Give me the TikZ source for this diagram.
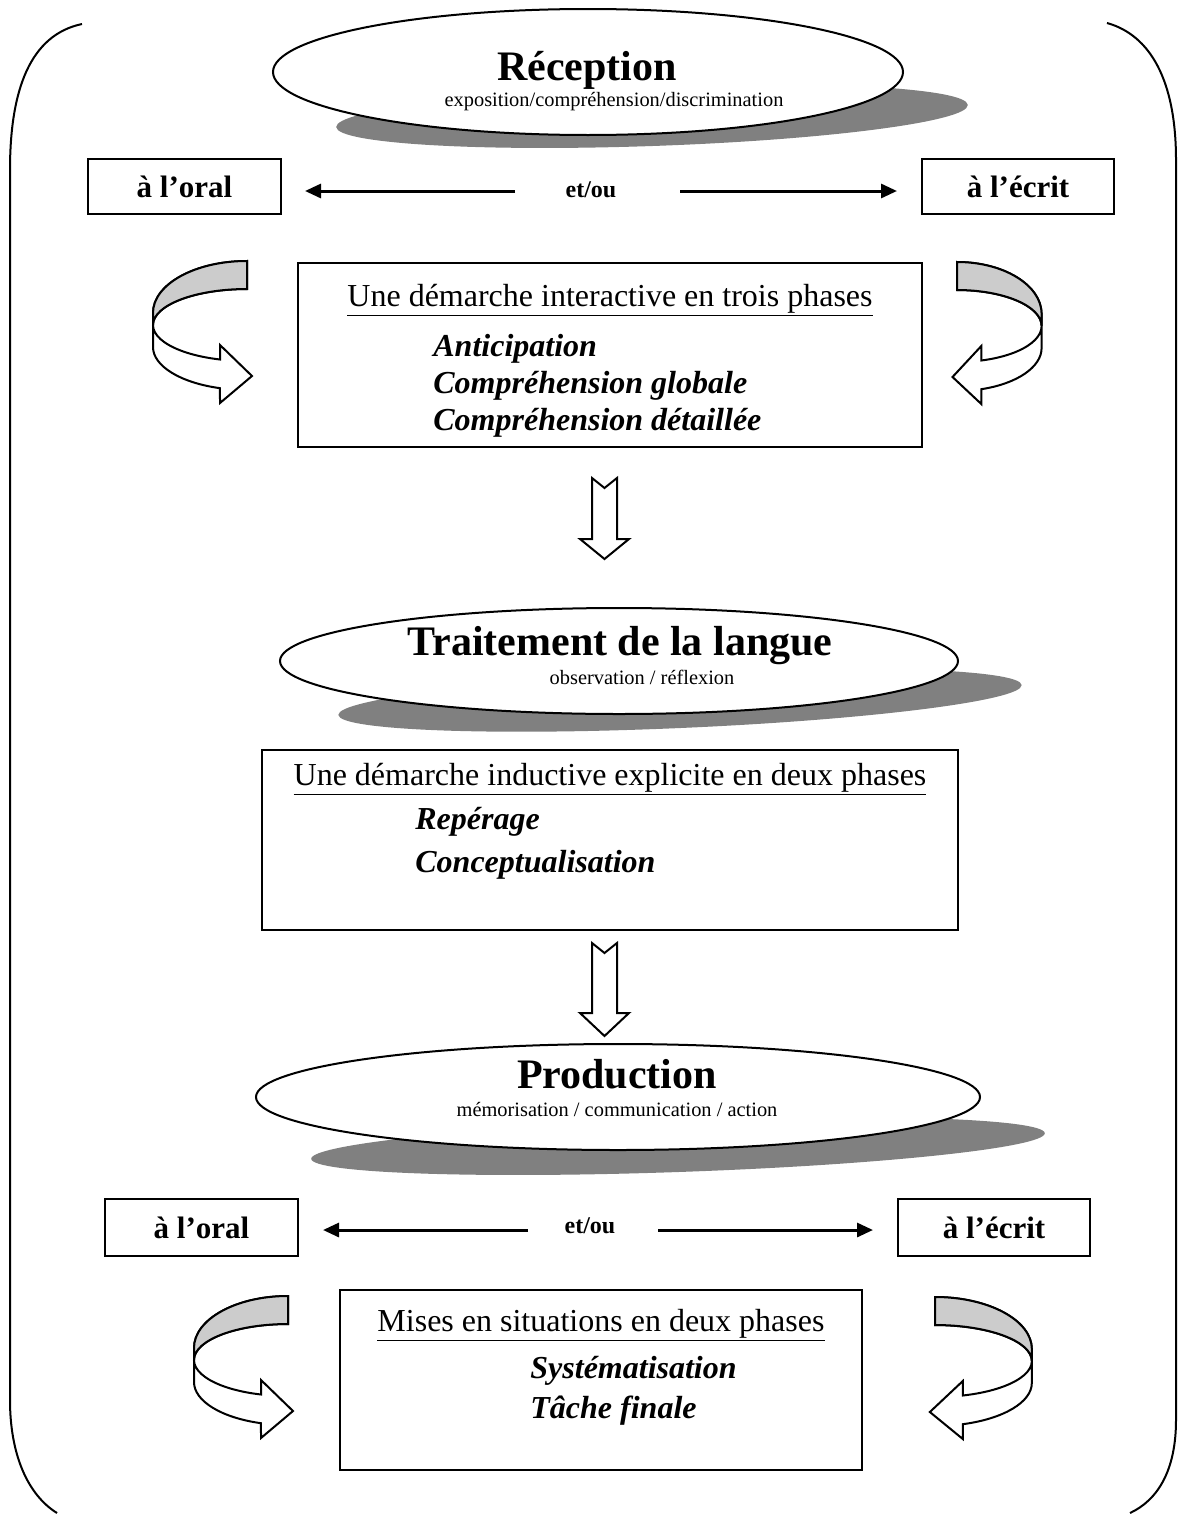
\documentclass[tikz,border=0pt]{standalone}
\usepackage{fontspec}
\setmainfont{Liberation Serif}
\usetikzlibrary{shapes.geometric,arrows.meta}
\definecolor{shadowgray}{HTML}{808080}
\definecolor{bandgray}{HTML}{CCCCCC}
\newcommand\uturnarrow[3]{%
 \begin{scope}[shift={(#1,#2)},xscale=#3]
  \draw[line width=1pt,fill=white,line join=miter]
    (0,0) arc[start angle=270,end angle=180,x radius=94,y radius=52]
    -- (-94,86) arc[start angle=180,end angle=106.7,x radius=94,y radius=43]
    -- (-27,142) -- (5,115) -- (-27,84) -- (-27,98.5)
    arc[start angle=106.7,end angle=270,x radius=94,y radius=36] -- cycle;
  \draw[line width=1pt,fill=bandgray]
    (0,0) arc[start angle=270,end angle=180,x radius=94,y radius=52]
    -- (-94,64) arc[start angle=180,end angle=270,x radius=94,y radius=36] -- cycle;
 \end{scope}}
\begin{document}
\begin{tikzpicture}[x=0.5pt,y=-0.5pt,
  boxstyle/.style={draw,line width=1pt,inner sep=0pt},
  ellstyle/.style={ellipse,draw,fill=white,line width=1pt,inner sep=0pt},
  titlefont/.style={font=\bfseries\fontsize{21}{25}\selectfont,inner sep=0pt,anchor=base},
  subfont/.style={font=\fontsize{10.2}{12}\selectfont,inner sep=0pt,anchor=base},
  headfont/.style={font=\fontsize{16}{19}\selectfont,inner sep=0pt,anchor=base},
  itemfont/.style={font=\bfseries\itshape\fontsize{16}{19}\selectfont,inner sep=0pt,anchor=base west},
  sidefont/.style={font=\bfseries\fontsize{15.5}{18}\selectfont},
  etfont/.style={font=\bfseries\fontsize{12}{14}\selectfont,inner sep=0pt,anchor=base},
  etarrow/.style={line width=1.5pt,-{Triangle[length=8pt,width=7pt]}},
  blockarrow/.style={draw,line width=1pt,fill=white,line join=miter}]
\useasboundingbox (0,0) rectangle (1178,1515);
\fill[white] (0,0) rectangle (1178,1515);

% outer frame
\draw[line width=1pt] (82,24) .. controls (30,35) and (10,90) .. (10,170)
  -- (10,1400) .. controls (10,1455) and (28,1495) .. (57,1513);
\draw[line width=1pt] (1107,23) .. controls (1150,35) and (1176,80) .. (1176,160)
  -- (1176,1420) .. controls (1176,1470) and (1158,1500) .. (1130,1513);

% ---------- Reception ----------
\fill[shadowgray,rotate around={2:(652,116)}] (652,116) ellipse[x radius=316,y radius=30];
\node[ellstyle,minimum width=315pt,minimum height=63pt] (recep) at (588,72) {};
\node[titlefont] (recept) at (587,80) {Réception};
\node[subfont] (recsub) at (614,106) {exposition/compréhension/discrimination};

\node[boxstyle,sidefont,minimum width=96.5pt,minimum height=27.5pt] (oral1) at (184.5,186.5) {à l’oral};
\node[boxstyle,sidefont,minimum width=96pt,minimum height=27.5pt] (ecrit1) at (1018,186.5) {à l’écrit};
\node[etfont] (etou1) at (591,197) {et/ou};
\coordinate (ea1) at (515,191);
\coordinate (eb1) at (305,191);
\coordinate (ec1) at (680,191);
\coordinate (ed1) at (897,191);
\draw[etarrow] (ea1) -- (eb1);
\draw[etarrow] (ec1) -- (ed1);

\uturnarrow{247}{261}{1}
\uturnarrow{957}{262}{-0.9}

\node[boxstyle,minimum width=312pt,minimum height=92pt] (box1) at (610,355) {};
\node[headfont] (head1) at (610,306) {\underline{Une démarche interactive en trois phases}};
\node[itemfont] (it11) at (433,356) {Anticipation};
\node[itemfont] (it12) at (433,393) {Compréhension globale};
\node[itemfont] (it13) at (433,430) {Compréhension détaillée};

\path[blockarrow] (592,478) -- (604.5,488) -- (617,478) -- (617,539) -- (629,539)
  -- (604.5,559) -- (580,539) -- (592,539) -- cycle;

% ---------- Traitement ----------
\fill[shadowgray,rotate around={2.5:(680,700)}] (680,700) ellipse[x radius=342,y radius=28];
\node[ellstyle,minimum width=339pt,minimum height=53pt] (trait) at (619,661) {};
\node[titlefont] (traitt) at (620,655) {Traitement de la langue};
\node[subfont] (traitsub) at (642,684) {observation / réflexion};

\node[boxstyle,minimum width=348pt,minimum height=90pt] (box2) at (610,840) {};
\node[headfont] (head2) at (610,785) {\underline{Une démarche inductive explicite en deux phases}};
\node[itemfont] (it21) at (415,829) {Repérage};
\node[itemfont] (it22) at (415,872) {Conceptualisation};

\path[blockarrow] (592,943) -- (604.5,953) -- (617,943) -- (617,1013) -- (629,1013)
  -- (604.5,1036) -- (580,1013) -- (592,1013) -- cycle;

% ---------- Production ----------
\fill[shadowgray,rotate around={2:(678,1146)}] (678,1146) ellipse[x radius=367,y radius=26];
\node[ellstyle,minimum width=362pt,minimum height=53pt] (prod) at (618,1097) {};
\node[titlefont] (prodt) at (617,1088) {Production};
\node[subfont] (prodsub) at (617,1116) {mémorisation / communication / action};

\node[boxstyle,sidefont,minimum width=96.5pt,minimum height=28.5pt] (oral2) at (201.5,1227.5) {à l’oral};
\node[boxstyle,sidefont,minimum width=96pt,minimum height=28.5pt] (ecrit2) at (994,1227.5) {à l’écrit};
\node[etfont] (etou2) at (590,1233) {et/ou};
\coordinate (ea2) at (528,1230);
\coordinate (eb2) at (323,1230);
\coordinate (ec2) at (658,1230);
\coordinate (ed2) at (873,1230);
\draw[etarrow] (ea2) -- (eb2);
\draw[etarrow] (ec2) -- (ed2);

\uturnarrow{288}{1296}{1}
\uturnarrow{935}{1297}{-1.03}

\node[boxstyle,minimum width=261pt,minimum height=90pt] (box3) at (601,1380) {};
\node[headfont] (head3) at (601,1331) {\underline{Mises en situations en deux phases}};
\node[itemfont] (it31) at (530,1378) {Systématisation};
\node[itemfont] (it32) at (530,1418) {Tâche finale};
\end{tikzpicture}
\end{document}
